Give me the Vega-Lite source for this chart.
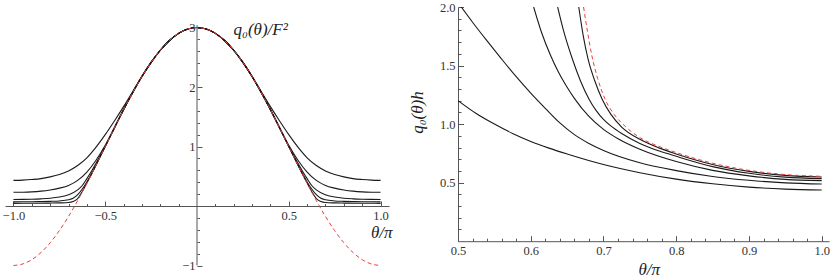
{
  "$schema": "https://vega.github.io/schema/vega-lite/v6.json",
  "background": "white",
  "padding": {"left": 2, "top": 1, "right": 0, "bottom": 0},
  "bounds": "flush",
  "spacing": 69,
  "config": {
    "view": {"stroke": null},
    "font": "Liberation Serif",
    "axis": {"grid": false, "labelFont": "Liberation Serif", "labelFontSize": 12.5, "labelColor": "#333", "domainColor": "#555", "tickColor": "#555", "labelFlush": false, "labelOverlap": false, "titleFont": "Liberation Serif", "titleFontSize": 17, "titleFontWeight": "normal", "titleFontStyle": "italic", "titleColor": "#222"}
  },
  "datasets": {
    "lk": [
      {"c":"k1","x":-1,"y":0.43},{"c":"k1","x":-0.95,"y":0.435},{"c":"k1","x":-0.9,"y":0.445},{"c":"k1","x":-0.85,"y":0.46},{"c":"k1","x":-0.8,"y":0.49},{"c":"k1","x":-0.75,"y":0.53},{"c":"k1","x":-0.7,"y":0.59},{"c":"k1","x":-0.65,"y":0.68},{"c":"k1","x":-0.6,"y":0.81},{"c":"k1","x":-0.55,"y":0.99},{"c":"k1","x":-0.5,"y":1.2},{"c":"k1","x":-0.45,"y":1.43},{"c":"k1","x":-0.4,"y":1.67},{"c":"k1","x":-0.35,"y":1.925},{"c":"k1","x":-0.3,"y":2.18},{"c":"k1","x":-0.25,"y":2.415},{"c":"k1","x":-0.2,"y":2.618},{"c":"k1","x":-0.15,"y":2.782},{"c":"k1","x":-0.1,"y":2.902},{"c":"k1","x":-0.05,"y":2.975},{"c":"k1","x":0,"y":3},
      {"c":"k1","x":0.05,"y":2.975},{"c":"k1","x":0.1,"y":2.902},{"c":"k1","x":0.15,"y":2.782},{"c":"k1","x":0.2,"y":2.618},{"c":"k1","x":0.25,"y":2.415},{"c":"k1","x":0.3,"y":2.18},{"c":"k1","x":0.35,"y":1.925},{"c":"k1","x":0.4,"y":1.67},{"c":"k1","x":0.45,"y":1.43},{"c":"k1","x":0.5,"y":1.2},{"c":"k1","x":0.55,"y":0.99},{"c":"k1","x":0.6,"y":0.81},{"c":"k1","x":0.65,"y":0.68},{"c":"k1","x":0.7,"y":0.59},{"c":"k1","x":0.75,"y":0.53},{"c":"k1","x":0.8,"y":0.49},{"c":"k1","x":0.85,"y":0.46},{"c":"k1","x":0.9,"y":0.445},{"c":"k1","x":0.95,"y":0.435},{"c":"k1","x":1,"y":0.43},
      {"c":"k2","x":-1,"y":0.23},{"c":"k2","x":-0.95,"y":0.232},{"c":"k2","x":-0.9,"y":0.238},{"c":"k2","x":-0.85,"y":0.25},{"c":"k2","x":-0.8,"y":0.27},{"c":"k2","x":-0.75,"y":0.3},{"c":"k2","x":-0.7,"y":0.345},{"c":"k2","x":-0.65,"y":0.43},{"c":"k2","x":-0.6,"y":0.57},{"c":"k2","x":-0.55,"y":0.77},{"c":"k2","x":-0.5,"y":1.02},{"c":"k2","x":-0.45,"y":1.32},{"c":"k2","x":-0.4,"y":1.625},{"c":"k2","x":-0.35,"y":1.908},{"c":"k2","x":-0.3,"y":2.176},{"c":"k2","x":-0.25,"y":2.414},{"c":"k2","x":-0.2,"y":2.618},{"c":"k2","x":-0.15,"y":2.782},{"c":"k2","x":-0.1,"y":2.902},{"c":"k2","x":-0.05,"y":2.975},{"c":"k2","x":0,"y":3},
      {"c":"k2","x":0.05,"y":2.975},{"c":"k2","x":0.1,"y":2.902},{"c":"k2","x":0.15,"y":2.782},{"c":"k2","x":0.2,"y":2.618},{"c":"k2","x":0.25,"y":2.414},{"c":"k2","x":0.3,"y":2.176},{"c":"k2","x":0.35,"y":1.908},{"c":"k2","x":0.4,"y":1.625},{"c":"k2","x":0.45,"y":1.32},{"c":"k2","x":0.5,"y":1.02},{"c":"k2","x":0.55,"y":0.77},{"c":"k2","x":0.6,"y":0.57},{"c":"k2","x":0.65,"y":0.43},{"c":"k2","x":0.7,"y":0.345},{"c":"k2","x":0.75,"y":0.3},{"c":"k2","x":0.8,"y":0.27},{"c":"k2","x":0.85,"y":0.25},{"c":"k2","x":0.9,"y":0.238},{"c":"k2","x":0.95,"y":0.232},{"c":"k2","x":1,"y":0.23},
      {"c":"k3","x":-1,"y":0.11},{"c":"k3","x":-0.95,"y":0.111},{"c":"k3","x":-0.9,"y":0.114},{"c":"k3","x":-0.85,"y":0.12},{"c":"k3","x":-0.8,"y":0.13},{"c":"k3","x":-0.75,"y":0.15},{"c":"k3","x":-0.7,"y":0.19},{"c":"k3","x":-0.65,"y":0.27},{"c":"k3","x":-0.625,"y":0.345},{"c":"k3","x":-0.6,"y":0.46},{"c":"k3","x":-0.575,"y":0.585},{"c":"k3","x":-0.55,"y":0.72},{"c":"k3","x":-0.5,"y":1.005},{"c":"k3","x":-0.45,"y":1.313},{"c":"k3","x":-0.4,"y":1.618},{"c":"k3","x":-0.35,"y":1.908},{"c":"k3","x":-0.3,"y":2.176},{"c":"k3","x":-0.25,"y":2.414},{"c":"k3","x":-0.2,"y":2.618},{"c":"k3","x":-0.15,"y":2.782},{"c":"k3","x":-0.1,"y":2.902},{"c":"k3","x":-0.05,"y":2.975},{"c":"k3","x":0,"y":3},
      {"c":"k3","x":0.05,"y":2.975},{"c":"k3","x":0.1,"y":2.902},{"c":"k3","x":0.15,"y":2.782},{"c":"k3","x":0.2,"y":2.618},{"c":"k3","x":0.25,"y":2.414},{"c":"k3","x":0.3,"y":2.176},{"c":"k3","x":0.35,"y":1.908},{"c":"k3","x":0.4,"y":1.618},{"c":"k3","x":0.45,"y":1.313},{"c":"k3","x":0.5,"y":1.005},{"c":"k3","x":0.55,"y":0.72},{"c":"k3","x":0.575,"y":0.585},{"c":"k3","x":0.6,"y":0.46},{"c":"k3","x":0.625,"y":0.345},{"c":"k3","x":0.65,"y":0.27},{"c":"k3","x":0.7,"y":0.19},{"c":"k3","x":0.75,"y":0.15},{"c":"k3","x":0.8,"y":0.13},{"c":"k3","x":0.85,"y":0.12},{"c":"k3","x":0.9,"y":0.114},{"c":"k3","x":0.95,"y":0.111},{"c":"k3","x":1,"y":0.11},
      {"c":"k4","x":-1,"y":0.07},{"c":"k4","x":-0.95,"y":0.0705},{"c":"k4","x":-0.9,"y":0.072},{"c":"k4","x":-0.85,"y":0.074},{"c":"k4","x":-0.8,"y":0.078},{"c":"k4","x":-0.75,"y":0.085},{"c":"k4","x":-0.7,"y":0.105},{"c":"k4","x":-0.675,"y":0.13},{"c":"k4","x":-0.65,"y":0.19},{"c":"k4","x":-0.625,"y":0.285},{"c":"k4","x":-0.6,"y":0.405},{"c":"k4","x":-0.575,"y":0.54},{"c":"k4","x":-0.55,"y":0.69},{"c":"k4","x":-0.5,"y":1.0},{"c":"k4","x":-0.45,"y":1.313},{"c":"k4","x":-0.4,"y":1.618},{"c":"k4","x":-0.35,"y":1.908},{"c":"k4","x":-0.3,"y":2.176},{"c":"k4","x":-0.25,"y":2.414},{"c":"k4","x":-0.2,"y":2.618},{"c":"k4","x":-0.15,"y":2.782},{"c":"k4","x":-0.1,"y":2.902},{"c":"k4","x":-0.05,"y":2.975},{"c":"k4","x":0,"y":3},
      {"c":"k4","x":0.05,"y":2.975},{"c":"k4","x":0.1,"y":2.902},{"c":"k4","x":0.15,"y":2.782},{"c":"k4","x":0.2,"y":2.618},{"c":"k4","x":0.25,"y":2.414},{"c":"k4","x":0.3,"y":2.176},{"c":"k4","x":0.35,"y":1.908},{"c":"k4","x":0.4,"y":1.618},{"c":"k4","x":0.45,"y":1.313},{"c":"k4","x":0.5,"y":1.0},{"c":"k4","x":0.55,"y":0.69},{"c":"k4","x":0.575,"y":0.54},{"c":"k4","x":0.6,"y":0.405},{"c":"k4","x":0.625,"y":0.285},{"c":"k4","x":0.65,"y":0.19},{"c":"k4","x":0.675,"y":0.13},{"c":"k4","x":0.7,"y":0.105},{"c":"k4","x":0.75,"y":0.085},{"c":"k4","x":0.8,"y":0.078},{"c":"k4","x":0.85,"y":0.074},{"c":"k4","x":0.9,"y":0.072},{"c":"k4","x":0.95,"y":0.0705},{"c":"k4","x":1,"y":0.07},
      {"c":"k5","x":-1,"y":0.045},{"c":"k5","x":-0.95,"y":0.0452},{"c":"k5","x":-0.9,"y":0.046},{"c":"k5","x":-0.85,"y":0.047},{"c":"k5","x":-0.8,"y":0.049},{"c":"k5","x":-0.75,"y":0.052},{"c":"k5","x":-0.7,"y":0.058},{"c":"k5","x":-0.675,"y":0.075},{"c":"k5","x":-0.65,"y":0.125},{"c":"k5","x":-0.625,"y":0.245},{"c":"k5","x":-0.6,"y":0.385},{"c":"k5","x":-0.575,"y":0.533},{"c":"k5","x":-0.55,"y":0.687},{"c":"k5","x":-0.5,"y":1.0},{"c":"k5","x":-0.45,"y":1.313},{"c":"k5","x":-0.4,"y":1.618},{"c":"k5","x":-0.35,"y":1.908},{"c":"k5","x":-0.3,"y":2.176},{"c":"k5","x":-0.25,"y":2.414},{"c":"k5","x":-0.2,"y":2.618},{"c":"k5","x":-0.15,"y":2.782},{"c":"k5","x":-0.1,"y":2.902},{"c":"k5","x":-0.05,"y":2.975},{"c":"k5","x":0,"y":3},
      {"c":"k5","x":0.05,"y":2.975},{"c":"k5","x":0.1,"y":2.902},{"c":"k5","x":0.15,"y":2.782},{"c":"k5","x":0.2,"y":2.618},{"c":"k5","x":0.25,"y":2.414},{"c":"k5","x":0.3,"y":2.176},{"c":"k5","x":0.35,"y":1.908},{"c":"k5","x":0.4,"y":1.618},{"c":"k5","x":0.45,"y":1.313},{"c":"k5","x":0.5,"y":1.0},{"c":"k5","x":0.55,"y":0.687},{"c":"k5","x":0.575,"y":0.533},{"c":"k5","x":0.6,"y":0.385},{"c":"k5","x":0.625,"y":0.245},{"c":"k5","x":0.65,"y":0.125},{"c":"k5","x":0.675,"y":0.075},{"c":"k5","x":0.7,"y":0.058},{"c":"k5","x":0.75,"y":0.052},{"c":"k5","x":0.8,"y":0.049},{"c":"k5","x":0.85,"y":0.047},{"c":"k5","x":0.9,"y":0.046},{"c":"k5","x":0.95,"y":0.0452},{"c":"k5","x":1,"y":0.045}
    ],
    "lr": [
      {"x":-1,"y":-1},{"x":-0.95,"y":-0.975},{"x":-0.9,"y":-0.902},{"x":-0.85,"y":-0.782},{"x":-0.8,"y":-0.618},{"x":-0.75,"y":-0.414},{"x":-0.7,"y":-0.176},{"x":-0.65,"y":0.092},{"x":-0.6,"y":0.382},{"x":-0.55,"y":0.687},{"x":-0.5,"y":1},{"x":-0.45,"y":1.313},{"x":-0.4,"y":1.618},{"x":-0.35,"y":1.908},{"x":-0.3,"y":2.176},{"x":-0.25,"y":2.414},{"x":-0.2,"y":2.618},{"x":-0.15,"y":2.782},{"x":-0.1,"y":2.902},{"x":-0.05,"y":2.975},{"x":0,"y":3},
      {"x":0.05,"y":2.975},{"x":0.1,"y":2.902},{"x":0.15,"y":2.782},{"x":0.2,"y":2.618},{"x":0.25,"y":2.414},{"x":0.3,"y":2.176},{"x":0.35,"y":1.908},{"x":0.4,"y":1.618},{"x":0.45,"y":1.313},{"x":0.5,"y":1},{"x":0.55,"y":0.687},{"x":0.6,"y":0.382},{"x":0.65,"y":0.092},{"x":0.7,"y":-0.176},{"x":0.75,"y":-0.414},{"x":0.8,"y":-0.618},{"x":0.85,"y":-0.782},{"x":0.9,"y":-0.902},{"x":0.95,"y":-0.975},{"x":1,"y":-1}
    ],
    "rk": [
      {"c":"A","x":0.5,"y":1.2},{"c":"A","x":0.525,"y":1.09},{"c":"A","x":0.55,"y":1.0},{"c":"A","x":0.575,"y":0.92},{"c":"A","x":0.6,"y":0.852},{"c":"A","x":0.625,"y":0.795},{"c":"A","x":0.65,"y":0.745},{"c":"A","x":0.7,"y":0.655},{"c":"A","x":0.75,"y":0.585},{"c":"A","x":0.8,"y":0.53},{"c":"A","x":0.85,"y":0.49},{"c":"A","x":0.9,"y":0.462},{"c":"A","x":0.95,"y":0.445},{"c":"A","x":1,"y":0.437},
      {"c":"B","x":0.5045,"y":2.0},{"c":"B","x":0.52,"y":1.87},{"c":"B","x":0.54,"y":1.71},{"c":"B","x":0.56,"y":1.555},{"c":"B","x":0.58,"y":1.405},{"c":"B","x":0.6,"y":1.265},{"c":"B","x":0.62,"y":1.135},{"c":"B","x":0.64,"y":1.01},{"c":"B","x":0.66,"y":0.91},{"c":"B","x":0.68,"y":0.835},{"c":"B","x":0.7,"y":0.775},{"c":"B","x":0.75,"y":0.67},{"c":"B","x":0.8,"y":0.603},{"c":"B","x":0.85,"y":0.553},{"c":"B","x":0.9,"y":0.52},{"c":"B","x":0.95,"y":0.498},{"c":"B","x":1,"y":0.488},
      {"c":"C","x":0.604,"y":2.0},{"c":"C","x":0.615,"y":1.78},{"c":"C","x":0.627,"y":1.59},{"c":"C","x":0.638,"y":1.445},{"c":"C","x":0.65,"y":1.315},{"c":"C","x":0.66,"y":1.22},{"c":"C","x":0.68,"y":1.065},{"c":"C","x":0.7,"y":0.955},{"c":"C","x":0.72,"y":0.875},{"c":"C","x":0.75,"y":0.785},{"c":"C","x":0.8,"y":0.68},{"c":"C","x":0.85,"y":0.605},{"c":"C","x":0.9,"y":0.558},{"c":"C","x":0.95,"y":0.528},{"c":"C","x":1,"y":0.517},
      {"c":"D","x":0.637,"y":2.0},{"c":"D","x":0.645,"y":1.8},{"c":"D","x":0.657,"y":1.56},{"c":"D","x":0.668,"y":1.375},{"c":"D","x":0.68,"y":1.215},{"c":"D","x":0.69,"y":1.115},{"c":"D","x":0.7,"y":1.04},{"c":"D","x":0.71,"y":0.985},{"c":"D","x":0.725,"y":0.92},{"c":"D","x":0.75,"y":0.835},{"c":"D","x":0.776,"y":0.772},{"c":"D","x":0.8,"y":0.725},{"c":"D","x":0.85,"y":0.637},{"c":"D","x":0.9,"y":0.58},{"c":"D","x":0.95,"y":0.547},{"c":"D","x":1,"y":0.534},
      {"c":"E","x":0.666,"y":2.0},{"c":"E","x":0.672,"y":1.76},{"c":"E","x":0.679,"y":1.55},{"c":"E","x":0.688,"y":1.37},{"c":"E","x":0.698,"y":1.215},{"c":"E","x":0.71,"y":1.085},{"c":"E","x":0.725,"y":0.975},{"c":"E","x":0.75,"y":0.87},{"c":"E","x":0.776,"y":0.797},{"c":"E","x":0.8,"y":0.745},{"c":"E","x":0.85,"y":0.655},{"c":"E","x":0.9,"y":0.596},{"c":"E","x":0.95,"y":0.562},{"c":"E","x":1,"y":0.548}
    ],
    "rr": [
      {"x":0.6726,"y":2.0},{"x":0.678,"y":1.79},{"x":0.684,"y":1.585},{"x":0.692,"y":1.39},{"x":0.702,"y":1.215},{"x":0.715,"y":1.08},{"x":0.73,"y":0.98},{"x":0.75,"y":0.885},{"x":0.776,"y":0.81},{"x":0.8,"y":0.757},{"x":0.85,"y":0.666},{"x":0.9,"y":0.605},{"x":0.95,"y":0.569},{"x":1,"y":0.554}
    ]
  },
  "hconcat": [
    {
      "width": 384,
      "height": 258.5,
      "resolve": {"axis": {"x": "independent", "y": "independent"}},
      "layer": [
        {
          "data": {"name": "lk"},
          "mark": {"type": "line", "color": "#1a1a1a", "strokeWidth": 1.1, "interpolate": "monotone"},
          "encoding": {
            "x": {"field": "x", "type": "quantitative", "scale": {"domain": [-1.046, 1.046], "nice": false, "zero": false},
              "axis": {"orient": "bottom", "offset": -59.5, "values": [-1, -0.5, 0.5, 1], "format": ".1f", "tickSize": -5, "labelPadding": 8, "labelFont": "Liberation Serif", "labelFontSize": 12.5, "title": "θ/π", "titleX": 387, "titleY": 31, "titleAlign": "right", "titleBaseline": "alphabetic"}},
            "y": {"field": "y", "type": "quantitative", "scale": {"domain": [-1, 3.345], "nice": false, "zero": false},
              "axis": {"orient": "left", "offset": -192, "values": [-1, 1, 2, 3], "format": "d", "tickSize": -5, "labelPadding": 7, "labelFont": "Liberation Serif", "labelFontSize": 12.5, "domain": false, "title": "q₀(θ)/F²", "titleAngle": 0, "titleX": 36, "titleY": 27, "titleAlign": "left", "titleBaseline": "alphabetic"}},
            "detail": {"field": "c"}
          }
        },
        {
          "data": {"name": "lr"},
          "mark": {"type": "line", "color": "#f03c3c", "strokeWidth": 1, "strokeDash": [4, 3], "interpolate": "monotone"},
          "encoding": {
            "x": {"field": "x", "type": "quantitative",
              "axis": {"orient": "bottom", "offset": -59.5, "values": [-0.9, -0.8, -0.7, -0.6, -0.4, -0.3, -0.2, -0.1, 0.1, 0.2, 0.3, 0.4, 0.6, 0.7, 0.8, 0.9], "tickSize": -2.5, "labels": false, "domain": false, "title": null}},
            "y": {"field": "y", "type": "quantitative",
              "axis": {"orient": "left", "offset": -192, "values": [-0.8, -0.6, -0.4, -0.2, 0.2, 0.4, 0.6, 0.8, 1.2, 1.4, 1.6, 1.8, 2.2, 2.4, 2.6, 2.8], "tickSize": -2.5, "labels": false, "domain": false, "title": null}}
          }
        },
        {
          "data": {"values": [{}]},
          "mark": {"type": "rule", "color": "#555", "strokeWidth": 1},
          "encoding": {
            "x": {"datum": 0, "type": "quantitative", "axis": null},
            "y": {"datum": -1, "type": "quantitative", "axis": null},
            "y2": {"datum": 3.04}
          }
        }
      ]
    },
    {
      "width": 371,
      "height": 234.2,
      "resolve": {"axis": {"x": "independent", "y": "independent"}},
      "layer": [
        {
          "data": {"name": "rk"},
          "mark": {"type": "line", "color": "#1a1a1a", "strokeWidth": 1.1, "interpolate": "monotone", "clip": true},
          "encoding": {
            "x": {"field": "x", "type": "quantitative", "scale": {"domain": [0.5, 1.01], "nice": false, "zero": false},
              "axis": {"orient": "bottom", "values": [0.5, 0.6, 0.7, 0.8, 0.9, 1], "format": ".1f", "tickSize": -5.5, "labelPadding": 9, "labelFont": "Liberation Serif", "labelFontSize": 12.5, "title": "θ/π", "titleX": 190.7, "titleY": 33.5, "titleAlign": "center", "titleBaseline": "alphabetic"}},
            "y": {"field": "y", "type": "quantitative", "scale": {"domain": [0, 2], "nice": false, "zero": false},
              "axis": {"orient": "left", "values": [0.5, 1, 1.5, 2], "format": ".1f", "tickSize": -5.5, "labelPadding": 8.5, "labelFont": "Liberation Serif", "labelFontSize": 12.5, "title": "q₀(θ)h", "titleAngle": -90, "titleX": -36, "titleY": 105, "titleAlign": "center", "titleBaseline": "alphabetic"}},
            "detail": {"field": "c"}
          }
        },
        {
          "data": {"name": "rr"},
          "mark": {"type": "line", "color": "#f03c3c", "strokeWidth": 1, "strokeDash": [4, 3], "interpolate": "monotone", "clip": true},
          "encoding": {
            "x": {"field": "x", "type": "quantitative",
              "axis": {"orient": "bottom", "values": [0.52, 0.54, 0.56, 0.58, 0.62, 0.64, 0.66, 0.68, 0.72, 0.74, 0.76, 0.78, 0.82, 0.84, 0.86, 0.88, 0.92, 0.94, 0.96, 0.98], "tickSize": -3, "labels": false, "domain": false, "title": null}},
            "y": {"field": "y", "type": "quantitative",
              "axis": {"orient": "left", "values": [0.1, 0.2, 0.3, 0.4, 0.6, 0.7, 0.8, 0.9, 1.1, 1.2, 1.3, 1.4, 1.6, 1.7, 1.8, 1.9], "tickSize": -3, "labels": false, "domain": false, "title": null}}
          }
        }
      ]
    }
  ]
}
